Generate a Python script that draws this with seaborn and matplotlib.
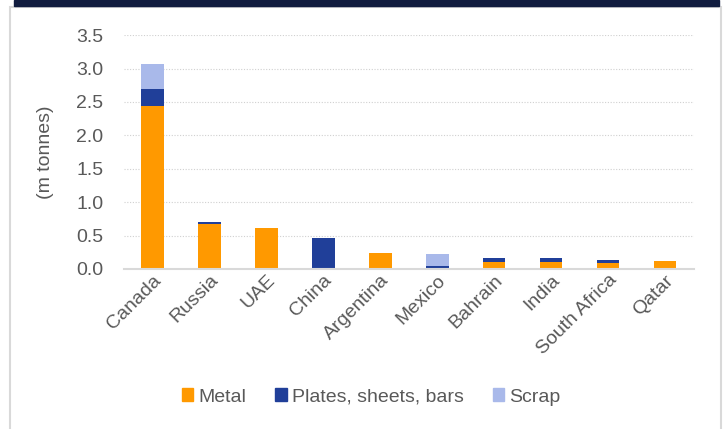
import seaborn as sns
import matplotlib.pyplot as plt
import matplotlib.patches as mpatches
import pandas as pd

# Data (m tonnes)
countries = ['Canada', 'Russia', 'UAE', 'China', 'Argentina', 'Mexico',
             'Bahrain', 'India', 'South Africa', 'Qatar']
metal = [2.44, 0.68, 0.62, 0.0, 0.24, 0.0, 0.10, 0.11, 0.09, 0.12]
plates = [0.25, 0.02, 0.0, 0.46, 0.0, 0.05, 0.06, 0.05, 0.05, 0.0]
scrap = [0.38, 0.0, 0.0, 0.0, 0.0, 0.17, 0.0, 0.0, 0.0, 0.0]

series_names = ['Metal', 'Plates, sheets, bars', 'Scrap']
colors = ['#FF9900', '#203F99', '#A9B9EA']
text_col = '#595959'

df = pd.DataFrame({'Country': countries, 'Metal': metal,
                   'Plates, sheets, bars': plates, 'Scrap': scrap})

sns.set_style('white')
plt.rcParams['font.family'] = ['Liberation Sans', 'DejaVu Sans']

fig = plt.figure(figsize=(7.25, 4.29), dpi=100)
ax = fig.add_axes([0.171, 0.373, 0.786, 0.545])

# outer frame + top band
fig.patches.append(mpatches.Rectangle((10 / 725, -0.05), 711 / 725, 1 - 7 / 429 + 0.05,
                                      transform=fig.transFigure, fill=False,
                                      edgecolor='#D9D9D9', lw=1.5, zorder=0))
fig.patches.append(mpatches.Rectangle((14 / 725, 1 - 6 / 429), 705 / 725, 6 / 429,
                                      transform=fig.transFigure, color='#111C3F', zorder=1))

bottom = [0.0] * len(countries)
for name, col in zip(series_names, colors):
    sns.barplot(data=df, x='Country', y=name, color=col, bottom=bottom,
                width=0.39, ax=ax, label=name, saturation=1, edgecolor='none')
    bottom = [b + v for b, v in zip(bottom, df[name])]

ax.set_ylim(0, 3.5)
ax.set_xlim(-0.5, len(countries) - 0.5)
ax.set_yticks([i * 0.5 for i in range(8)])
ax.set_yticklabels([f'{i * 0.5:.1f}' for i in range(8)])
ax.yaxis.grid(True, linestyle=(0, (1, 1.5)), color='#D0D0D0', lw=0.8)
ax.set_axisbelow(True)
for s in ['top', 'right', 'left']:
    ax.spines[s].set_visible(False)
ax.spines['bottom'].set_color('#D9D9D9')
ax.spines['bottom'].set_linewidth(1.5)

ax.set_xlabel('')
ax.set_ylabel('(m tonnes)', fontsize=14, color=text_col, labelpad=16)
ax.tick_params(axis='y', length=0, labelsize=14, labelcolor=text_col, pad=15)
ax.tick_params(axis='x', length=0, labelsize=14, labelcolor=text_col, pad=2)
plt.setp(ax.get_xticklabels(), rotation=45, ha='right', rotation_mode='anchor')

handles = [mpatches.Patch(color=c, label=n) for n, c in zip(series_names, colors)]
fig.legend(handles=handles, loc='center', bbox_to_anchor=(371 / 725, 1 - 397 / 429),
           ncol=3, frameon=False, fontsize=14, handlelength=0.6, handleheight=0.6,
           handletextpad=0.25, columnspacing=1.5, labelcolor=text_col)
if ax.get_legend() is not None:
    ax.get_legend().remove()

fig.savefig('out.png', dpi=100)
